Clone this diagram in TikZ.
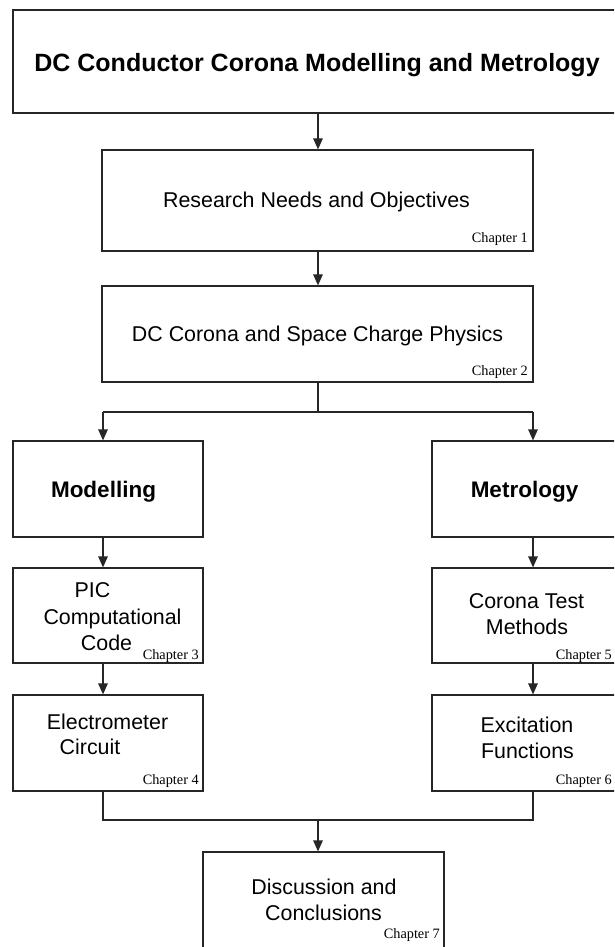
\documentclass[tikz,border=0pt]{standalone}
\usepackage{fontspec}
\setmainfont{Liberation Sans}
\newfontfamily\chfont{Liberation Serif}
\usetikzlibrary{arrows.meta}
\begin{document}
\begin{tikzpicture}[x=1pt,y=-1pt,
  box/.style={draw=black!85, line width=1.2pt, inner sep=0pt, fill=white},
  arr/.style={draw=black!85, line width=1.2pt, -{Triangle[length=11pt,width=9.5pt]}},
  ln/.style={draw=black!85, line width=1.2pt},
  txt/.style={font=\fontsize{21.4}{25}\selectfont, inner sep=0pt, anchor=base},
  btxt/.style={font=\bfseries\fontsize{22.5}{27}\selectfont, inner sep=0pt, anchor=base},
  ttl/.style={font=\bfseries\fontsize{25}{30}\selectfont, inner sep=0pt, anchor=base},
  chap/.style={font=\chfont\fontsize{14.3}{17}\selectfont, inner sep=0pt, anchor=base east}]
\clip (0,0) rectangle (614,947);
\fill[white] (0,0) rectangle (614,947);

% boxes
\node[box, minimum width=610pt, minimum height=103pt] (top) at (318,61.5) {};
\node[box, minimum width=431pt, minimum height=101pt] (res) at (317.5,200.5) {};
\node[box, minimum width=431pt, minimum height=96pt] (dcc) at (317.5,334) {};
\node[box, minimum width=190pt, minimum height=96pt] (mod) at (108,489) {};
\node[box, minimum width=190pt, minimum height=96pt] (met) at (527,489) {};
\node[box, minimum width=190pt, minimum height=95pt] (pic) at (108,615.5) {};
\node[box, minimum width=190pt, minimum height=95pt] (cor) at (527,615.5) {};
\node[box, minimum width=190pt, minimum height=96pt] (ele) at (108,743) {};
\node[box, minimum width=190pt, minimum height=96pt] (exc) at (527,743) {};
\node[box, minimum width=241pt, minimum height=105pt] (dis) at (323.5,904.5) {};

% texts
\node[ttl] (ttop) at (317,72) {DC Conductor Corona Modelling and Metrology};
\node[txt] (tres) at (316.5,207.5) {Research Needs and Objectives};
\node[chap] (cres) at (528,242.5) {Chapter 1};
\node[txt] (tdcc) at (317.5,341) {DC Corona and Space Charge Physics};
\node[chap] (cdcc) at (528,375.5) {Chapter 2};
\node[btxt] (tmod) at (103.5,497) {Modelling};
\node[btxt] (tmet) at (524.5,497) {Metrology};
\node[txt] (tpic1) at (92.5,597.5) {PIC};
\node[txt] (tpic2) at (112.5,624) {Computational};
\node[txt] (tpic3) at (106.5,650.5) {Code};
\node[chap] (cpic) at (199,659) {Chapter 3};
\node[txt] (tcor1) at (526.5,608.5) {Corona Test};
\node[txt] (tcor2) at (527,634.5) {Methods};
\node[chap] (ccor) at (612,659) {Chapter 5};
\node[txt] (tele1) at (107.5,729) {Electrometer};
\node[txt] (tele2) at (90,754) {Circuit};
\node[chap] (cele) at (199,784.5) {Chapter 4};
\node[txt] (texc1) at (527,732) {Excitation};
\node[txt] (texc2) at (527.5,758) {Functions};
\node[chap] (cexc) at (612,784.5) {Chapter 6};
\node[txt] (tdis1) at (324,894) {Discussion and};
\node[txt] (tdis2) at (323.5,920) {Conclusions};
\node[chap] (cdis) at (440,938) {Chapter 7};

% junction points
\coordinate (bM) at (318,412);
\coordinate (bL) at (103,412);
\coordinate (bR) at (533,412);
\coordinate (mM) at (318,820);
\coordinate (mL) at (103,820);
\coordinate (mR) at (533,820);

% connectors
\draw[arr] (top.south -| bM) -- (res.north -| bM);
\draw[arr] (res.south -| bM) -- (dcc.north -| bM);
\draw[ln] (dcc.south -| bM) -- (bM);
\draw[ln] (bL) -- (bR);
\draw[arr] (bL) -- (mod.north -| bL);
\draw[arr] (bR) -- (met.north -| bR);
\draw[arr] (mod.south -| bL) -- (pic.north -| bL);
\draw[arr] (pic.south -| bL) -- (ele.north -| bL);
\draw[arr] (met.south -| bR) -- (cor.north -| bR);
\draw[arr] (cor.south -| bR) -- (exc.north -| bR);
\draw[ln] (ele.south -| mL) -- (mL) -- (mR) -- (exc.south -| mR);
\draw[arr] (mM) -- (dis.north -| mM);
\end{tikzpicture}
\end{document}
